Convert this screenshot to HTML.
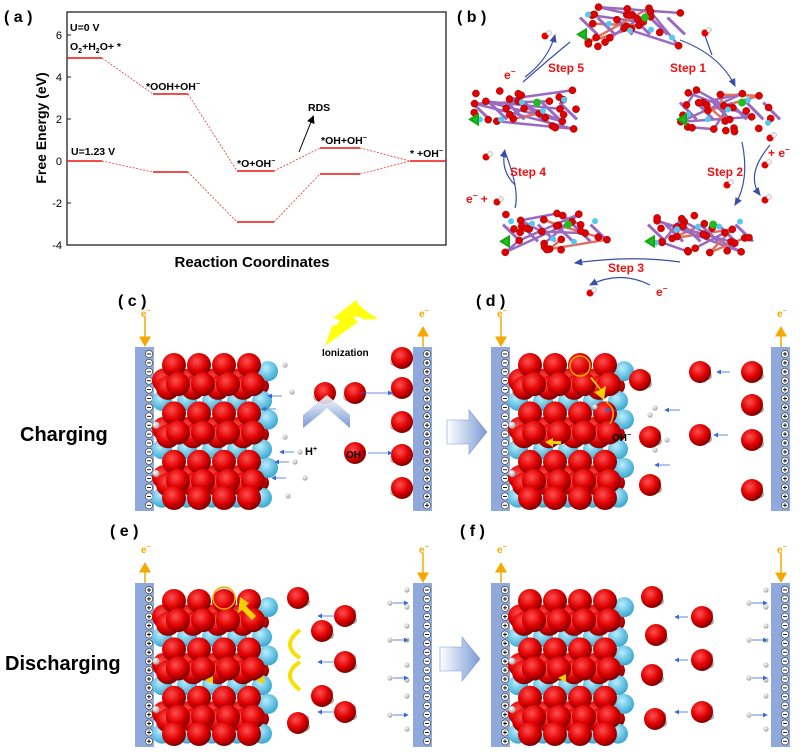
<!DOCTYPE html>
<html><head><meta charset="utf-8"><style>
body{margin:0;background:#fff;width:800px;height:753px;overflow:hidden}
svg{display:block}
text{font-family:"Liberation Sans",Arial,sans-serif}
</style></head><body>
<svg id="s" width="800" height="753" viewBox="0 0 800 753" xmlns="http://www.w3.org/2000/svg">
<defs>
<radialGradient id="rd" cx="0.4" cy="0.35" r="0.65"><stop offset="0" stop-color="#ff5050"/><stop offset="0.6" stop-color="#e00000"/><stop offset="1" stop-color="#800000"/></radialGradient>
<radialGradient id="cy" cx="0.4" cy="0.35" r="0.65"><stop offset="0" stop-color="#b8eeff"/><stop offset="1" stop-color="#3aa8d0"/></radialGradient>
<radialGradient id="wh" cx="0.4" cy="0.35" r="0.7"><stop offset="0" stop-color="#fff"/><stop offset="1" stop-color="#999"/></radialGradient>
<linearGradient id="ba" x1="0" x2="1"><stop offset="0" stop-color="#fff"/><stop offset="1" stop-color="#7b9bd6"/></linearGradient>
<linearGradient id="va" x1="0" y1="0" x2="0" y2="1"><stop offset="0" stop-color="#fff"/><stop offset="1" stop-color="#6a8cd0"/></linearGradient>
<marker id="ah" markerWidth="8" markerHeight="8" refX="6" refY="4" orient="auto"><path d="M0,0L8,4L0,8z" fill="#000"/></marker>
<marker id="bh" markerWidth="8" markerHeight="8" refX="6" refY="4" orient="auto"><path d="M0,1L7,4L0,7z" fill="#3a4ea8"/></marker>
<marker id="oh" markerWidth="8" markerHeight="8" refX="5" refY="4" orient="auto"><path d="M0,0L7,4L0,8z" fill="#f5a800"/></marker>
<marker id="sh" markerWidth="6" markerHeight="6" refX="5" refY="3" orient="auto"><path d="M0,0L6,3L0,6z" fill="#3a6ad0"/></marker>
</defs>

<!-- Panel a -->
<text x="4" y="22" font-size="16" font-weight="bold">( a )</text>
<rect x="67" y="12" width="379" height="233" fill="none" stroke="#222" stroke-width="1.3"/>
<g font-size="11" text-anchor="end">
<text x="62" y="39">6</text><text x="62" y="81">4</text><text x="62" y="123">2</text><text x="62" y="165">0</text><text x="62" y="207">-2</text><text x="62" y="249">-4</text>
</g>
<g stroke="#222" stroke-width="1"><line x1="67" y1="35" x2="71" y2="35"/><line x1="67" y1="77" x2="71" y2="77"/><line x1="67" y1="119" x2="71" y2="119"/><line x1="67" y1="161" x2="71" y2="161"/><line x1="67" y1="203" x2="71" y2="203"/></g>
<text transform="translate(46,128) rotate(-90)" font-size="14" font-weight="bold" text-anchor="middle">Free Energy (eV)</text>
<text x="252" y="267" font-size="15" font-weight="bold" text-anchor="middle">Reaction Coordinates</text>
<g stroke="#ee1111" stroke-width="1.6">
<line x1="67" y1="58" x2="102" y2="58"/><line x1="153" y1="94" x2="188" y2="94"/><line x1="237" y1="171" x2="274" y2="171"/><line x1="320" y1="148" x2="360" y2="148"/><line x1="410" y1="161" x2="446" y2="161"/>
<line x1="67" y1="161" x2="102" y2="161"/><line x1="153" y1="172" x2="188" y2="172"/><line x1="237" y1="222" x2="274" y2="222"/><line x1="320" y1="174" x2="360" y2="174"/>
</g>
<g stroke="#ee3333" stroke-width="0.8" stroke-dasharray="2,1.5" fill="none">
<polyline points="102,58 153,94"/><polyline points="188,94 237,171"/><polyline points="274,171 320,148"/><polyline points="360,148 410,161"/>
<polyline points="102,161 153,172"/><polyline points="188,172 237,222"/><polyline points="274,222 320,174"/><polyline points="360,174 410,161"/>
</g>
<line x1="299" y1="152" x2="313" y2="117" stroke="#000" stroke-width="1" marker-end="url(#ah)"/>
<g font-size="10.5" font-weight="bold">
<text x="70" y="31">U=0 V</text>
<text x="70" y="50">O<tspan font-size="7" dy="3">2</tspan><tspan dy="-3">+H</tspan><tspan font-size="7" dy="3">2</tspan><tspan dy="-3">O+ *</tspan></text>
<text x="146" y="90">*OOH+OH<tspan font-size="7" dy="-4">−</tspan></text>
<text x="308" y="111">RDS</text>
<text x="71" y="155">U=1.23 V</text>
<text x="237" y="167">*O+OH<tspan font-size="7" dy="-4">−</tspan></text>
<text x="321" y="144">*OH+OH<tspan font-size="7" dy="-4">−</tspan></text>
<text x="410" y="157">* +OH<tspan font-size="7" dy="-4">−</tspan></text>
</g>

<!-- Panel b -->
<text x="457" y="22" font-size="16" font-weight="bold">( b )</text>
<g fill="none" stroke="#3a4ea8" stroke-width="1.2">
<path d="M525,77 Q548,60 555,35" marker-end="url(#bh)"/>
<path d="M523,82 Q548,60 570,42"/>
<path d="M680,40 Q720,55 735,86" marker-end="url(#bh)"/>
<path d="M703,30 Q710,50 712,55"/>
<path d="M742,142 Q750,180 735,205" marker-end="url(#bh)"/>
<path d="M770,145 Q745,175 760,195" marker-end="url(#bh)"/>
<path d="M680,262 Q630,255 575,263" marker-end="url(#bh)"/>
<path d="M650,285 Q620,270 590,285" marker-end="url(#bh)"/>
<path d="M515,185 Q500,170 505,150" marker-end="url(#bh)"/>
<path d="M515,208 Q520,190 505,152"/>
</g>
<g fill="#ee1111" font-size="12" font-weight="bold">
<text x="548" y="72">Step 5</text><text x="670" y="72">Step 1</text>
<text x="510" y="176">Step 4</text><text x="707" y="176">Step 2</text>
<text x="608" y="272">Step 3</text>
<text x="504" y="79">e<tspan font-size="8" dy="-5">−</tspan></text>
<text x="768" y="157">+ e<tspan font-size="8" dy="-5">−</tspan></text>
<text x="466" y="203">e<tspan font-size="8" dy="-5">−</tspan><tspan dy="5"> +</tspan></text>
<text x="656" y="296">e<tspan font-size="8" dy="-5">−</tspan></text>
</g>
<g id="mols"></g>

<!-- Panels c-f labels -->
<g font-size="16" font-weight="bold">
<text x="118" y="306">( c )</text><text x="476" y="306">( d )</text>
<text x="110" y="536">( e )</text><text x="460" y="536">( f )</text>
</g>
<text x="20" y="441" font-size="20" font-weight="bold">Charging</text>
<text x="5" y="670" font-size="20" font-weight="bold">Discharging</text>
<g id="gen"></g>
<!-- block arrows -->
<g fill="url(#ba)" stroke="#7b9bd6" stroke-width="0.6">
<path d="M447,420 h22 v-10 l18,22 l-18,22 v-10 h-22z"/>
<path d="M440,647 h22 v-10 l18,22 l-18,22 v-10 h-22z"/>
</g>
<!-- c extras -->
<polygon points="325,346 340,320 333,318 356,300 362,310 378,318 362,320 368,312 352,318 358,322 345,326" fill="#ffff10"/>
<polygon points="325,346 332,326 345,322 340,318 358,304 377,320 352,316 358,322" fill="#ffff10"/>
<text x="322" y="356" font-size="10" font-weight="bold">Ionization</text>
<path d="M303,415 L327,395 L350,415 L350,428 L336,416 L327,408 L318,416 L303,428z" fill="url(#va)" opacity="0.9"/>
<text x="305" y="455" font-size="11" font-weight="bold">H<tspan font-size="7" dy="-4">+</tspan></text>
<!-- d extras -->
<circle cx="580" cy="366" r="10" fill="none" stroke="#f5a800" stroke-width="1.5"/>
<path d="M590,378 l10,12 l-6,2 l10,8 l2,-14 l-5,3 l-9,-12z" fill="#f5d000"/>
<path d="M606,402 q12,8 4,22" fill="none" stroke="#f5a800" stroke-width="1.5"/>
<text x="612" y="441" font-size="10" font-weight="bold">OH<tspan font-size="7" dy="-4">−</tspan></text>
</svg>
<script>
const NS="http://www.w3.org/2000/svg";
const gen=document.getElementById('gen');
function el(t,a,p){const e=document.createElementNS(NS,t);for(const k in a)e.setAttribute(k,a[k]);(p||gen).appendChild(e);return e;}
function sph(x,y,r,f,p){el('circle',{cx:x,cy:y,r:r,fill:'url(#'+f+')'},p);}
function bar(x,y,sign,up){
  el('rect',{x:x,y:y,width:19,height:164,fill:'#8fa9dc'});
  for(let i=0;i<18;i++){const cy=y+7+i*8.9;
    el('circle',{cx:x+14,cy:cy,r:3.6,fill:'#fff',stroke:'#333','stroke-width':0.6});
    el('line',{x1:x+12,y1:cy,x2:x+16,y2:cy,stroke:'#000','stroke-width':0.9});
    if(sign>0)el('line',{x1:x+14,y1:cy-2,x2:x+14,y2:cy+2,stroke:'#000','stroke-width':0.9});}
  const ax=x+10;
  if(up){el('line',{x1:ax,y1:y,x2:ax,y2:y-18,stroke:'#f5a800','stroke-width':1.5,'marker-end':'url(#oh)'});}
  else{el('line',{x1:ax,y1:y-30,x2:ax,y2:y-3,stroke:'#f5a800','stroke-width':1.5,'marker-end':'url(#oh)'});}
  const t=el('text',{x:ax-4,y:y-30,'font-size':10,fill:'#f5a800','font-weight':'bold'});t.textContent='e';
  const s=el('tspan',{'font-size':7,dy:-4},t);s.textContent='−';
}
function slab(x0,y0){
  const k=0.93;
  for(let r=0;r<3;r++){const y=y0+r*52*k;
    for(let c=0;c<4;c++){sph(x0+c*25+4,y+22*k,12,'rd');}
    sph(x0+100,y+28*k,9,'rd');
  }
  for(let r=0;r<3;r++){const y=y0+(r*52+44)*k;
    for(let c=0;c<5;c++)sph(x0+c*25+2,y,10,'cy');}
  for(let r=0;r<3;r++)sph(x0+108,y0+(r*52+12)*k,10,'cy');
  for(let r=0;r<3;r++){const y=y0+r*52*k;
    for(let c=0;c<4;c++)sph(x0+c*25+14,y+5,12,'rd');
    for(let c=0;c<4;c++)sph(x0+c*25+8,y+30*k,12,'rd');
    for(let c=0;c<4;c++)sph(x0+c*25+18,y+26*k,12,'rd');
  }
  for(let c=0;c<4;c++)sph(x0+c*25+14,y0+138,12,'rd');
  for(let r=0;r<2;r++)sph(x0-4,y0+(r*52+70)*k,3.5,'wh');
}
function water(x,y,dir){sph(x+7*dir,y-4,4,'wh');sph(x+8*dir,y+4,4,'wh');sph(x,y,11,'rd');}
function sarrow(x1,y1,x2,y2){el('line',{x1:x1,y1:y1,x2:x2,y2:y2,stroke:'#3a6ad0','stroke-width':0.8,'marker-end':'url(#sh)'});}
function h(x,y){sph(x,y,2.6,'wh');}
// c
bar(135,347,-1,false);bar(413,347,1,true);slab(160,360);
[[285,365],[292,392],[285,437],[300,452],[295,462],[305,478],[288,496]].forEach(p=>h(...p));
[[268,396],[262,409],[280,452],[275,462],[272,478]].forEach((p,i)=>sarrow(p[0]+14,p[1],p[0],p[1]));
water(325,393,-1);water(355,393,-1);sph(355,453,11,'rd');
[[402,358],[402,388],[402,422],[402,455],[402,488]].forEach(p=>water(p[0],p[1],-1));
sarrow(360,393,392,393);sarrow(368,453,392,453);
(()=>{const t=el('text',{x:346,y:458,'font-size':10,'font-weight':'bold'});t.textContent='OH';const s=el('tspan',{'font-size':7,dy:-4},t);s.textContent='−';})();
// d
bar(491,347,-1,false);bar(771,347,1,true);slab(516,360);
el('path',{d:'M545,442 l8,-4 l0,3 l8,0 l0,3 l-8,0 l0,3z',fill:'#f5d000'});
[[595,407],[650,415],[655,408],[667,440],[655,450]].forEach(p=>h(...p));
sarrow(618,410,605,410);sarrow(680,410,665,410);sarrow(670,465,655,465);sarrow(730,372,717,372);sarrow(728,435,714,435);
[[640,380],[650,437]].forEach(p=>water(p[0],p[1],1));
water(700,372,1);water(752,372,1);water(700,435,1);water(752,440,1);water(752,405,1);water(752,490,1);water(650,485,1);
// e
bar(135,583,1,true);bar(413,583,-1,false);slab(160,596);
el('circle',{cx:224,cy:598,r:11,fill:'none',stroke:'#f5a800','stroke-width':1.5});
el('path',{d:'M240,597 l-2,16 l4,-3 l10,10 l4,-4 l-10,-10 l3,-3z',fill:'#f5d000'});
el('path',{d:'M205,680 l8,-4 l0,8z M256,680 l8,-4 l0,8z',fill:'#f5d000'});
el('path',{d:'M300,630 q-20,15 0,28 M300,690 q-20,-15 0,-28',fill:'none',stroke:'#f5e000','stroke-width':4});
[[298,598],[322,631],[345,616],[345,662],[322,696],[345,712],[298,723]].forEach(p=>water(p[0],p[1],1));
sarrow(335,616,318,616);sarrow(335,662,318,662);sarrow(335,712,318,712);
[[407,590],[407,607],[407,626],[407,640],[407,665],[407,680],[407,696],[407,729]].forEach(p=>h(...p));
[[390,603],[390,640],[390,678],[390,715]].forEach(p=>{h(p[0],p[1]);sarrow(p[0]+3,p[1],p[0]+18,p[1]);});
// f
bar(491,583,1,true);bar(771,583,-1,false);slab(516,596);
el('path',{d:'M558,678 l8,-4 l0,8z',fill:'#f5d000'});
[[652,597],[656,635],[652,675],[655,719]].forEach(p=>water(p[0],p[1],1));
[[702,617],[702,660],[702,712]].forEach(p=>water(p[0],p[1],1));
sarrow(688,617,675,617);sarrow(688,660,675,660);sarrow(688,712,675,712);
[[766,590],[766,607],[766,626],[766,640],[766,665],[766,680],[766,696],[766,729]].forEach(p=>h(...p));
[[749,603],[749,640],[749,678],[749,715]].forEach(p=>{h(p[0],p[1]);sarrow(p[0]+3,p[1],p[0]+18,p[1]);});
// panel b clusters
const mols=document.getElementById('mols');
let seed=7;function rnd(){seed=(seed*9301+49297)%233280;return seed/233280;}
function cluster(x0,y0,w,hh){
  const pts=[];
  for(let i=0;i<28;i++)pts.push([x0+rnd()*w,y0+rnd()*hh]);
  for(let i=0;i<12;i++){const a=pts[i],b=pts[i+3];
    el('line',{x1:a[0],y1:a[1],x2:b[0],y2:b[1],stroke:i%3?'#9a6ac0':'#e07060','stroke-width':2.5},mols);}
  for(let i=0;i<6;i++){el('line',{x1:x0+i*w/6,y1:y0+hh*0.3,x2:x0+(i+1)*w/6,y2:y0+hh*0.7,stroke:'#9a6ac0','stroke-width':3},mols);}
  pts.forEach(p=>el('circle',{cx:p[0],cy:p[1],r:3.6,fill:'#e00000',stroke:'#700','stroke-width':0.4},mols));
  for(let i=0;i<5;i++)el('circle',{cx:x0+8+i*w/5,cy:y0+hh*(0.2+0.6*rnd()),r:3,fill:'#55c8f0'},mols);
  el('path',{d:`M${x0-2},${y0+hh*0.7} l8,-5 l0,10 z`,fill:'#22bb22',stroke:'#1a1','stroke-width':2},mols);
  el('circle',{cx:x0+w*0.62,cy:y0+hh*0.3,r:4,fill:'#22bb22'},mols);
}
cluster(580,5,105,42);cluster(472,90,105,42);cluster(680,90,100,42);cluster(503,212,105,42);cluster(648,212,105,42);
[[545,36],[705,33],[770,138],[765,165],[727,185],[765,200],[486,157],[497,202],[590,293]].forEach(p=>{el('circle',{cx:p[0],cy:p[1],r:3.5,fill:'#e00000'},mols);el('circle',{cx:p[0]+4,cy:p[1]-3,r:2.5,fill:'#eee',stroke:'#888','stroke-width':0.4},mols);});
</script>
</body></html>
